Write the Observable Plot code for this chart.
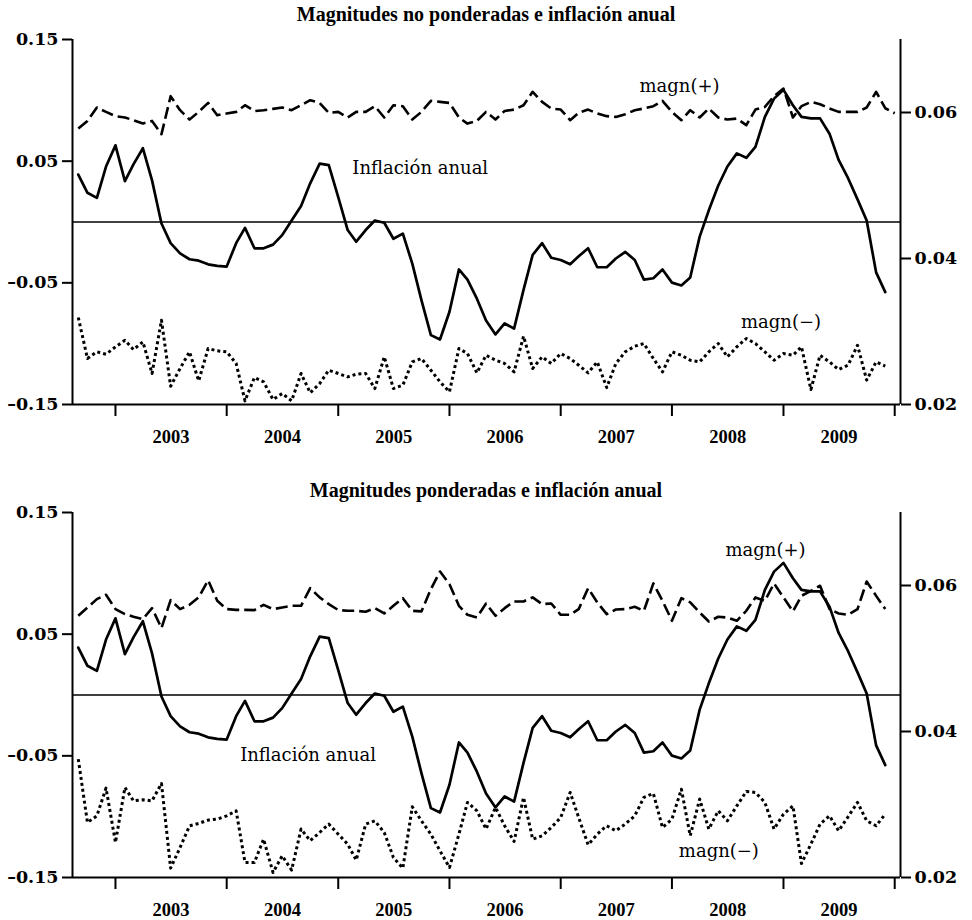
<!DOCTYPE html>
<html><head><meta charset="utf-8">
<script src="https://cdn.jsdelivr.net/npm/d3@7"></script>
<script src="https://cdn.jsdelivr.net/npm/@observablehq/plot@0.6"></script>
<style>
body{margin:0;background:#fff;}
#wrap{position:relative;width:972px;height:920px;background:#fff;}
.title{position:absolute;left:0;width:972px;text-align:center;font-family:"Liberation Serif",serif;font-weight:bold;font-size:20px;color:#000;z-index:2;line-height:1;}
.panel{position:absolute;left:0;z-index:1;}
.panel svg{background:transparent !important;}
</style></head><body>
<div id="wrap">
  <div class="panel" id="p1" style="top:0px"></div>
  <div class="panel" id="p2" style="top:470px"></div>
  <div class="title" style="top:4px">Magnitudes no ponderadas e inflación anual</div>
  <div class="title" style="top:480px">Magnitudes ponderadas e inflación anual</div>
</div>
<script>
// Monthly observations, Sep 2002 .. (first-of-month positions)
const firstMonth = "2002-09-01";
const years = [2003, 2004, 2005, 2006, 2007, 2008, 2009];
const leftTicks = [-0.15, -0.05, 0.05, 0.15];
const rightTicks = [0.02, 0.04, 0.06];

// Inflación anual (right axis)
const inflation = [0.0515, 0.0490, 0.0483, 0.0526, 0.0555, 0.0506, 0.0529, 0.0551, 0.0507, 0.0448,
 0.0421, 0.0407, 0.0399, 0.0397, 0.0392, 0.0390, 0.0389, 0.0421, 0.0442, 0.0414,
 0.0414, 0.0419, 0.0432, 0.0452, 0.0472, 0.0503, 0.0530, 0.0528, 0.0484, 0.0439,
 0.0423, 0.0439, 0.0452, 0.0449, 0.0427, 0.0434, 0.0393, 0.0343, 0.0295, 0.0289,
 0.0327, 0.0385, 0.0371, 0.0345, 0.0315, 0.0296, 0.0311, 0.0304, 0.0357, 0.0405,
 0.0421, 0.0401, 0.0398, 0.0392, 0.0403, 0.0414, 0.0388, 0.0388, 0.0400, 0.0409,
 0.0398, 0.0371, 0.0373, 0.0385, 0.0367, 0.0363, 0.0374, 0.0430, 0.0466, 0.0500,
 0.0526, 0.0544, 0.0538, 0.0553, 0.0594, 0.0619, 0.0631, 0.0610, 0.0594, 0.0592,
 0.0592, 0.0571, 0.0535, 0.0510, 0.0481, 0.0452, 0.0381, 0.0354];

// Magnitudes no ponderadas
const magnPosNP = [0.0768, 0.0831, 0.0941, 0.0905, 0.0870, 0.0859, 0.0837, 0.0809, 0.0831, 0.0722,
 0.1034, 0.0919, 0.0842, 0.0905, 0.0979, 0.0878, 0.0892, 0.0905, 0.0960, 0.0911,
 0.0919, 0.0930, 0.0941, 0.0919, 0.0960, 0.1001, 0.0979, 0.0897, 0.0905, 0.0859,
 0.0905, 0.0905, 0.0952, 0.0859, 0.0960, 0.0952, 0.0842, 0.0905, 0.0996, 0.0987,
 0.0979, 0.0859, 0.0809, 0.0831, 0.0905, 0.0842, 0.0913, 0.0924, 0.0960, 0.1070,
 0.0987, 0.0933, 0.0924, 0.0837, 0.0897, 0.0924, 0.0892, 0.0870, 0.0864, 0.0886,
 0.0919, 0.0933, 0.0952, 0.0996, 0.0905, 0.0837, 0.0919, 0.0859, 0.0933, 0.0859,
 0.0842, 0.0850, 0.0796, 0.0924, 0.0946, 0.1034, 0.1097, 0.0859, 0.0952, 0.0987,
 0.0968, 0.0933, 0.0905, 0.0905, 0.0905, 0.0941, 0.1070, 0.0935, 0.0894];
const magnNegNP = [-0.0785, -0.1122, -0.1067, -0.1087, -0.1026, -0.0972, -0.1048, -0.0985, -0.1245, -0.0807,
 -0.1350, -0.1204, -0.1067, -0.1306, -0.1040, -0.1059, -0.1067, -0.1163, -0.1470, -0.1278,
 -0.1314, -0.1459, -0.1410, -0.1470, -0.1245, -0.1404, -0.1328, -0.1218, -0.1245, -0.1273,
 -0.1251, -0.1245, -0.1369, -0.1108, -0.1369, -0.1341, -0.1150, -0.1122, -0.1218, -0.1314,
 -0.1396, -0.1040, -0.1081, -0.1240, -0.1095, -0.1136, -0.1163, -0.1232, -0.0939, -0.1204,
 -0.1108, -0.1163, -0.1081, -0.1122, -0.1177, -0.1240, -0.1150, -0.1361, -0.1163, -0.1067,
 -0.1021, -0.0999, -0.1122, -0.1232, -0.1067, -0.1095, -0.1136, -0.1150, -0.1067, -0.0999,
 -0.1108, -0.1026, -0.0958, -0.0999, -0.1067, -0.1136, -0.1081, -0.1095, -0.1026, -0.1377,
 -0.1095, -0.1150, -0.1213, -0.1177, -0.1013, -0.1300, -0.1150, -0.1185];

// Magnitudes ponderadas
const magnPosP = [0.0651, 0.0719, 0.0788, 0.0824, 0.0706, 0.0665, 0.0643, 0.0624, 0.0714, 0.0550,
 0.0780, 0.0706, 0.0741, 0.0802, 0.0944, 0.0774, 0.0706, 0.0700, 0.0700, 0.0698,
 0.0741, 0.0706, 0.0719, 0.0733, 0.0733, 0.0878, 0.0802, 0.0747, 0.0698, 0.0692,
 0.0692, 0.0684, 0.0714, 0.0670, 0.0733, 0.0796, 0.0692, 0.0687, 0.0870, 0.1015,
 0.0911, 0.0733, 0.0659, 0.0637, 0.0752, 0.0651, 0.0714, 0.0769, 0.0769, 0.0802,
 0.0747, 0.0752, 0.0659, 0.0659, 0.0706, 0.0878, 0.0761, 0.0665, 0.0703, 0.0706,
 0.0725, 0.0692, 0.0917, 0.0774, 0.0610, 0.0796, 0.0761, 0.0678, 0.0604, 0.0643,
 0.0637, 0.0610, 0.0692, 0.0802, 0.0774, 0.0917, 0.0802, 0.0687, 0.0815, 0.0856,
 0.0898, 0.0706, 0.0670, 0.0659, 0.0706, 0.0933, 0.0815, 0.0706];
const magnNegP = [-0.0527, -0.1048, -0.0993, -0.0765, -0.1212, -0.0760, -0.0870, -0.0861, -0.0870, -0.0727,
 -0.1423, -0.1253, -0.1075, -0.1056, -0.1028, -0.1020, -0.0993, -0.0952, -0.1376, -0.1376,
 -0.1185, -0.1459, -0.1322, -0.1439, -0.1102, -0.1198, -0.1130, -0.1061, -0.1144, -0.1226,
 -0.1357, -0.1061, -0.1034, -0.1130, -0.1335, -0.1423, -0.0919, -0.1034, -0.1144, -0.1281,
 -0.1418, -0.1144, -0.0883, -0.0952, -0.1102, -0.0924, -0.1075, -0.1204, -0.0842, -0.1185,
 -0.1157, -0.1089, -0.1007, -0.0801, -0.1007, -0.1231, -0.1144, -0.1075, -0.1116, -0.1061,
 -0.0993, -0.0842, -0.0809, -0.1089, -0.1020, -0.0774, -0.1157, -0.0856, -0.1102, -0.0952,
 -0.1034, -0.0911, -0.0793, -0.0801, -0.0883, -0.1102, -0.0979, -0.0911, -0.1385, -0.1226,
 -0.1061, -0.0993, -0.1116, -0.1001, -0.0883, -0.1034, -0.1075, -0.0979];

// Annotation labels
const labelsNP = [
  {text: "magn(+)", date: "2008-01-26", y: 0.1116},
  {text: "Inflación anual", date: "2005-09-27", y: 0.0442},
  {text: "magn(\u2212)", date: "2008-12-24", y: -0.0824}
];
const labelsP = [
  {text: "magn(+)", date: "2008-11-03", y: 0.1193},
  {text: "Inflación anual", date: "2004-09-24", y: -0.0495},
  {text: "magn(\u2212)", date: "2008-06-03", y: -0.1288}
];

// ---- build ----
const start = new Date(firstMonth + "T00:00:00Z");
const monthAt = i => d3.utcMonth.offset(start, i);
const toRows = arr => arr.map((v, i) => ({date: monthAt(i), v}));
const infl = d3.scaleLinear([0.02, 0.07], [-0.15, 0.15]); // right axis -> left axis units
const xDomain = [new Date(Date.UTC(2002, 7, 13)), new Date(Date.UTC(2010, 0, 20))];
const yearTicks = years.concat([2010]).map(y => new Date(Date.UTC(y, 0, 1)));
const yearLabelTicks = years.map(y => new Date(Date.UTC(y, 6, 2)));
const fmtLeft = d => (d < 0 ? "\u2013" : "") + Math.abs(d).toFixed(2);
const serif = "DejaVu Serif";

function panel(pos, neg, labels, mTop, mBottom) {
  const H = mTop + 365 + mBottom;
  return Plot.plot({
    width: 972, height: H,
    marginLeft: 72, marginRight: 72, marginTop: mTop, marginBottom: mBottom,
    x: {type: "utc", domain: xDomain},
    y: {domain: [-0.15, 0.15]},
    style: {background: "transparent", color: "black", overflow: "visible"},
    marks: [
      Plot.ruleY([0], {stroke: "black", strokeWidth: 1.4}),
      Plot.ruleY([-0.15], {stroke: "black", strokeWidth: 2}),
      Plot.ruleX([xDomain[0]], {stroke: "black", strokeWidth: 2}),
      Plot.ruleX([xDomain[1]], {stroke: "black", strokeWidth: 2}),
      Plot.axisY({anchor: "left", ticks: leftTicks, tickFormat: fmtLeft, tickSize: 10, tickPadding: 4,
        strokeWidth: 2, label: null, fontFamily: serif, fontSize: 17.5, fontWeight: "bold"}),
      Plot.axisY({anchor: "right", ticks: rightTicks.map(infl), tickFormat: d => infl.invert(d).toFixed(2),
        tickSize: 10, tickPadding: 4, strokeWidth: 2, label: null, fontFamily: serif, fontSize: 17.5, fontWeight: "bold"}),
      Plot.axisX({ticks: yearTicks, tickSize: 12, tickFormat: () => "", strokeWidth: 2, label: null}),
      Plot.axisX({ticks: yearLabelTicks, tickSize: 0, tickPadding: 25, tickFormat: d3.utcFormat("%Y"),
        label: null, fontFamily: "Liberation Serif", fontSize: 18.5, fontWeight: "bold"}),
      Plot.line(toRows(inflation), {x: "date", y: d => infl(d.v), stroke: "black", strokeWidth: 2.7, strokeLinejoin: "round"}),
      Plot.line(toRows(pos), {x: "date", y: "v", stroke: "black", strokeWidth: 2.6, strokeDasharray: "12,5", strokeLinecap: "butt"}),
      Plot.line(toRows(neg), {x: "date", y: "v", stroke: "black", strokeWidth: 3, strokeDasharray: "3,3", strokeLinecap: "butt"}),
      Plot.text(labels, {x: d => new Date(d.date + "T00:00:00Z"), y: "y", text: "text",
        fontFamily: serif, fontSize: 18, fill: "black"})
    ]
  });
}

document.getElementById("p1").append(panel(magnPosNP, magnNegNP, labelsNP, 39, 50));
document.getElementById("p2").append(panel(magnPosP, magnNegP, labelsP, 42, 43));
</script>
</body></html>
